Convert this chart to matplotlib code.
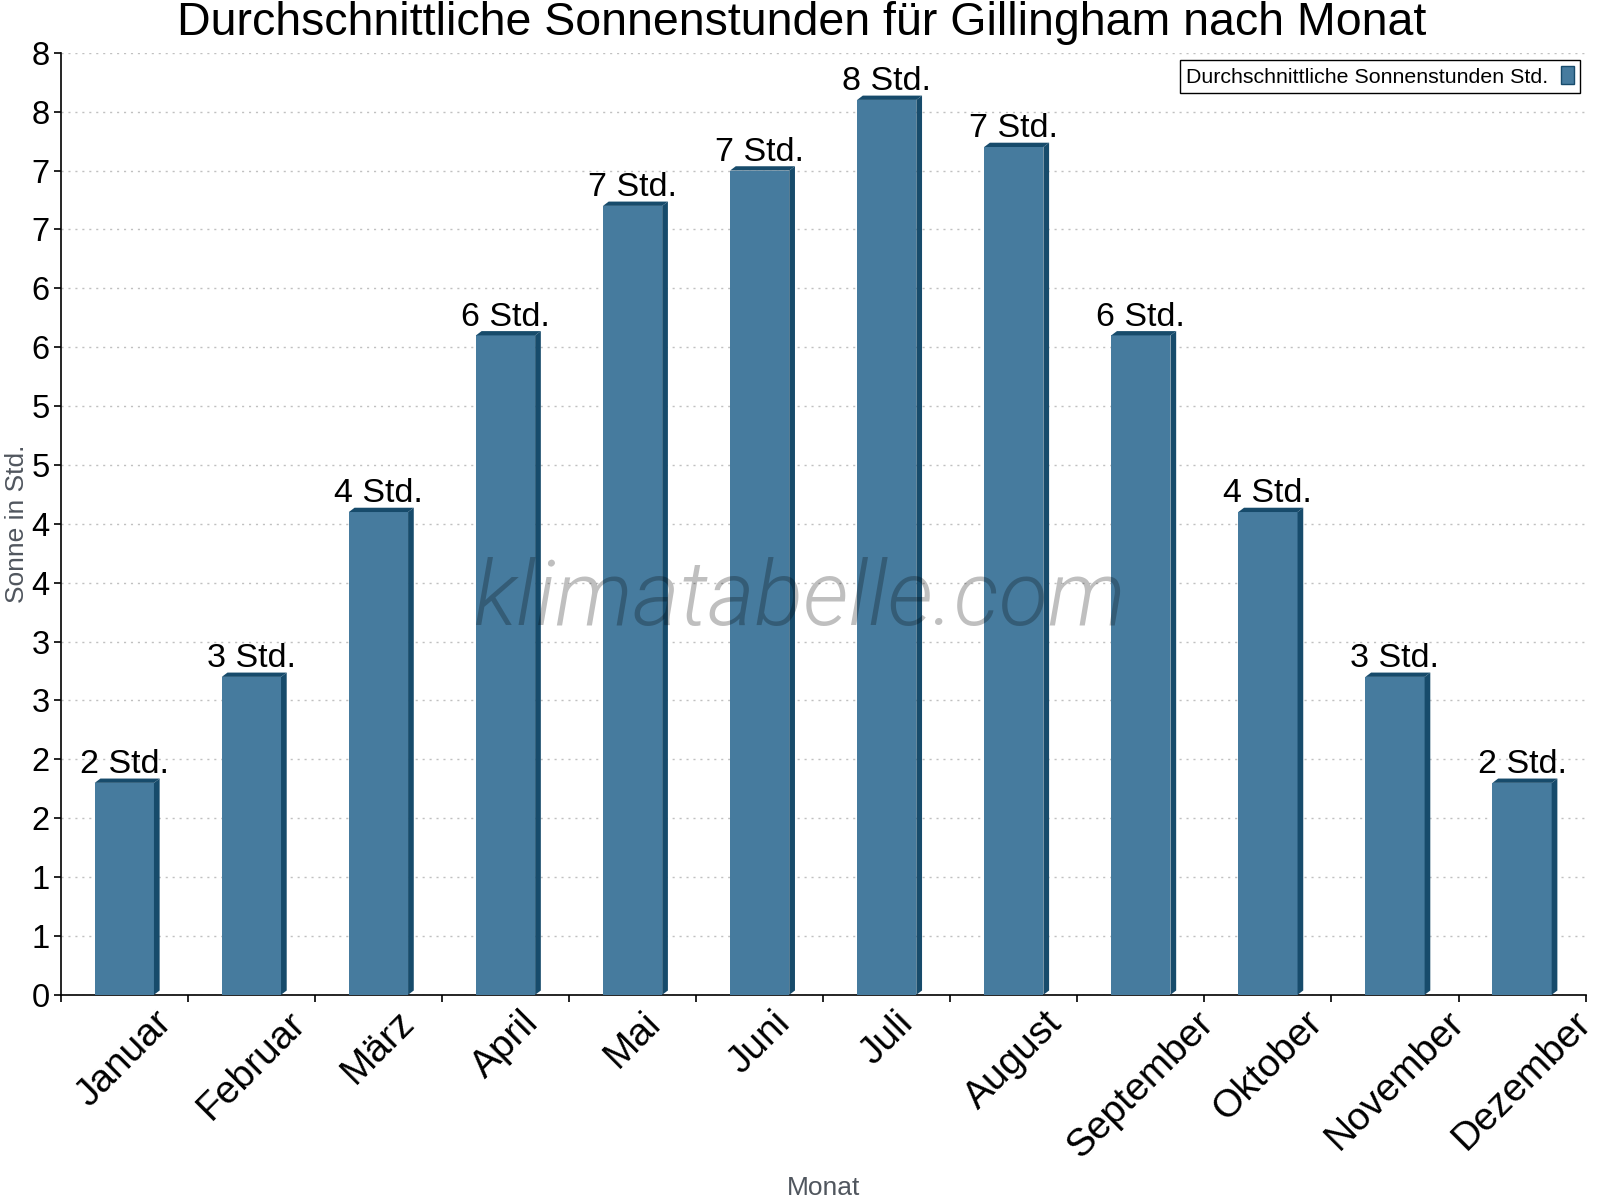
import matplotlib
matplotlib.use('Agg')
import matplotlib.pyplot as plt
from matplotlib.patches import Polygon
from matplotlib.ticker import FixedLocator, FuncFormatter

plt.rcParams['font.family'] = ['Liberation Sans', 'DejaVu Sans']

# daten
monate = ['Januar', 'Februar', 'März', 'April', 'Mai', 'Juni', 'Juli',
          'August', 'September', 'Oktober', 'November', 'Dezember']
sonne = [1.8, 2.7, 4.1, 5.6, 6.7, 7.0, 7.6, 7.2, 5.6, 4.1, 2.7, 1.8]
bar_labels = ['%d Std.' % int(v + 0.5) for v in sonne]

front = '#467b9e'
dunkel = '#174b6b'

fig = plt.figure(figsize=(16, 12), dpi=100)
ax = fig.add_axes([0.038, 0.171, 0.953, 0.785])

x = list(range(len(monate)))
w = 0.466
ax.set_xlim(-0.5, len(monate) - 0.5)
ax.set_ylim(0, 8)

# 3d tiefe in datenkoordinaten (ca. 5.7px / 4.3px)
ax_w = fig.get_figwidth() * fig.dpi * 0.953
ax_h = fig.get_figheight() * fig.dpi * 0.785
dx = 5.7 * (len(monate)) / ax_w
dy = 4.3 * 8 / ax_h

bars = ax.bar(x, sonne, width=w, color=front, zorder=3,
              label='Durchschnittliche Sonnenstunden Std.')
for xi, v in zip(x, sonne):
    l, r = xi - w / 2, xi + w / 2
    top = Polygon([(l, v), (l + dx, v + dy), (r + dx, v + dy), (r, v)],
                  closed=True, facecolor=dunkel, edgecolor='none', zorder=3)
    side = Polygon([(r, 0), (r + dx, dy), (r + dx, v + dy), (r, v)],
                   closed=True, facecolor=dunkel, edgecolor='none', zorder=3)
    ax.add_patch(top)
    ax.add_patch(side)

for xi, v, t in zip(x, sonne, bar_labels):
    ax.annotate(t, (xi, v + dy), xytext=(0, 4), textcoords='offset points',
                ha='center', va='baseline', fontsize=24.5, zorder=5)

# achsen
for s in ['top', 'right']:
    ax.spines[s].set_visible(False)
ax.spines['left'].set_linewidth(1.2)
ax.spines['bottom'].set_linewidth(1.2)

ax.yaxis.set_major_locator(FixedLocator([i * 0.5 for i in range(17)]))
ax.yaxis.set_major_formatter(FuncFormatter(lambda v, p: '%d' % int(v + 0.5)))
ax.tick_params(axis='y', labelsize=23.5, length=5, width=1.2, pad=3)

ax.set_xticks(x)
ax.set_xticklabels(monate, rotation=45, fontsize=28)
ax.set_xticks([i - 0.5 for i in range(len(monate) + 1)], minor=True)
ax.tick_params(axis='x', which='major', length=0, pad=7)
ax.tick_params(axis='x', which='minor', length=5, width=1.2)

ax.grid(axis='y', color='#c0c0c0', linestyle=(0, (1.5, 3.5)), linewidth=1, zorder=0)
ax.set_axisbelow(True)

ax.set_xlabel('Monat', fontsize=19, color='#50565e')
ax.xaxis.set_label_coords(0.5, -0.192)
ax.set_ylabel('Sonne in Std.', fontsize=19, color='#50565e')
ax.yaxis.set_label_coords(-0.021, 0.5)

fig.text(0.501, 0.981, 'Durchschnittliche Sonnenstunden für Gillingham nach Monat',
         ha='center', va='center', fontsize=33.5)

leg = ax.legend(loc='upper right', bbox_to_anchor=(0.996, 0.992), markerfirst=False,
                fontsize=15.4, fancybox=False, framealpha=1, edgecolor='black',
                handlelength=0.6, handleheight=0.9, handletextpad=0.6,
                borderpad=0.28, borderaxespad=0)
leg.get_frame().set_linewidth(1)
for h in leg.legend_handles:
    h.set_edgecolor(dunkel)
    h.set_linewidth(1)

fig.text(0.5, 0.5, 'klimatabelle.com', ha='center', va='center', fontsize=65,
         family=['Roboto', 'DejaVu Sans'], style='italic', weight=300,
         color='black', alpha=0.25, zorder=10)

fig.savefig('out.png', dpi=100)
